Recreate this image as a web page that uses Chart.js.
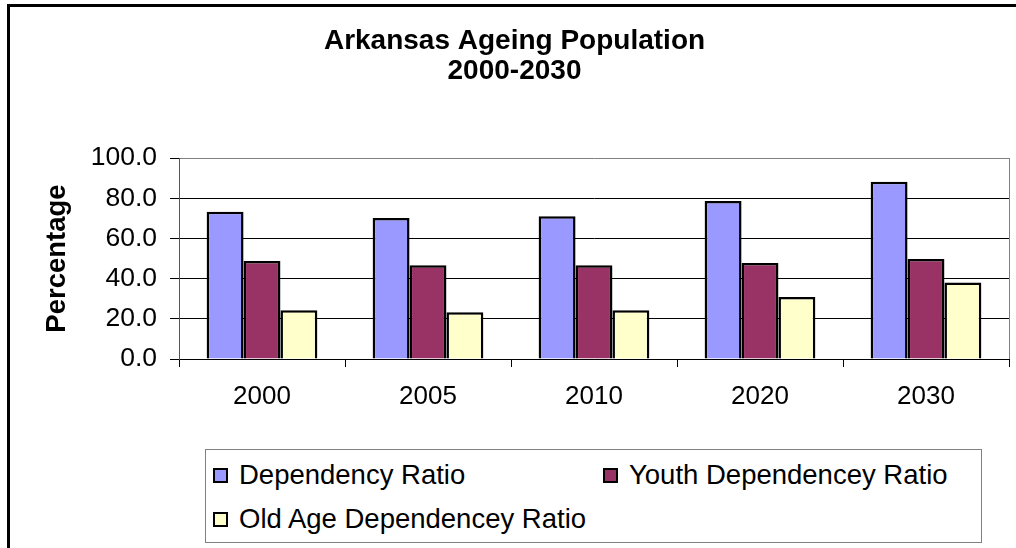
<!DOCTYPE html>
<html>
<head>
<meta charset="utf-8">
<title>Arkansas Ageing Population</title>
<script src="https://cdn.jsdelivr.net/npm/chart.js@4.4.0/dist/chart.umd.min.js"></script>
<style>
    body { margin: 0; background: #fff; font-family: "Liberation Sans", Arial, sans-serif; }
    #wrap { position: relative; width: 1016px; height: 548px; }
    #legend {
        position: absolute; left: 205px; top: 449px; width: 777px; height: 94px;
        box-sizing: border-box; border: 1px solid #808080; background: #fff;
        padding: 3px 0 0 7px;
        display: grid; grid-template-columns: 390px auto; grid-auto-rows: 44px;
    }
    .item { display: flex; align-items: center; font-size: 27.5px; color: #000; white-space: nowrap; }
    .swatch { width: 15px; height: 15px; box-sizing: border-box; border: 2px solid #000; margin-right: 11px; }
</style>
</head>
<body>
<div id="wrap">
    <canvas id="ageingChart"></canvas>
    <div id="legend"></div>
</div>
<script>
// Data
const years = ['2000', '2005', '2010', '2020', '2030'];
const dependencyRatio = [73.3, 70.1, 71.0, 78.6, 88.2];
const youthRatio = [48.8, 46.6, 46.6, 47.8, 49.8];
const oldAgeRatio = [24.3, 23.3, 24.3, 30.8, 38.1];
const seriesNames = ['Dependency Ratio', 'Youth Dependencey Ratio', 'Old Age Dependencey Ratio'];

const colors = {
    dependency: '#9999ff',
    youth: '#993366',
    oldAge: '#ffffcc'
};

Chart.defaults.font.family = '"Liberation Sans", Arial, sans-serif';
Chart.defaults.color = '#000';

// frame round the whole chart (only top and left show in the crop)
const framePlugin = {
    id: 'frame',
    beforeDraw(chart) {
        const ctx = chart.ctx;
        ctx.save();
        ctx.strokeStyle = '#000';
        ctx.lineWidth = 3;
        ctx.beginPath();
        ctx.moveTo(8.5, chart.height + 5);
        ctx.lineTo(8.5, 5.5);
        ctx.lineTo(chart.width + 5, 5.5);
        ctx.stroke();
        ctx.restore();
    },
    afterDraw(chart) {
        const a = chart.chartArea;
        const ctx = chart.ctx;
        ctx.save();
        ctx.strokeStyle = '#808080';
        ctx.lineWidth = 1;
        ctx.beginPath();
        ctx.moveTo(Math.round(a.right) + 0.5, a.top);
        ctx.lineTo(Math.round(a.right) + 0.5, a.bottom);
        ctx.stroke();
        ctx.restore();
    }
};

// legend built from the datasets
const htmlLegend = {
    id: 'htmlLegend',
    afterUpdate(chart) {
        const box = document.getElementById('legend');
        box.innerHTML = '';
        chart.data.datasets.forEach(function (ds) {
            const item = document.createElement('div');
            item.className = 'item';
            const sw = document.createElement('span');
            sw.className = 'swatch';
            sw.style.background = ds.backgroundColor;
            item.appendChild(sw);
            item.appendChild(document.createTextNode(ds.label));
            box.appendChild(item);
        });
    }
};

new Chart(document.getElementById('ageingChart'), {
    type: 'bar',
    data: {
        labels: years,
        datasets: [
            { label: seriesNames[0], data: dependencyRatio, backgroundColor: colors.dependency },
            { label: seriesNames[1], data: youthRatio, backgroundColor: colors.youth },
            { label: seriesNames[2], data: oldAgeRatio, backgroundColor: colors.oldAge }
        ]
    },
    options: {
        responsive: true,
        maintainAspectRatio: false,
        animation: false,
        layout: {
            padding: { top: 0, left: 20, right: 7, bottom: 129 }
        },
        datasets: {
            bar: {
                borderColor: '#000',
                borderWidth: 2.5,
                barPercentage: 1,
                categoryPercentage: 0.667
            }
        },
        plugins: {
            legend: { display: false },
            tooltip: { enabled: false },
            title: {
                display: true,
                text: ['Arkansas Ageing Population', '2000-2030'],
                color: '#000',
                font: { size: 28, weight: 'bold', lineHeight: '30px' },
                padding: { top: 26, bottom: 72 }
            }
        },
        scales: {
            x: {
                afterFit: function (scale) { scale.height = 60; },
                grid: {
                    offset: true,
                    drawOnChartArea: false,
                    drawTicks: true,
                    tickLength: 8,
                    color: '#000'
                },
                border: { color: '#000', width: 1 },
                ticks: {
                    padding: 14,
                    font: { size: 26 }
                }
            },
            y: {
                min: 0,
                max: 100,
                afterFit: function (scale) { scale.width = 159; },
                grid: {
                    color: function (ctx) {
                        return ctx.tick && ctx.tick.value === 100 ? '#808080' : '#000';
                    },
                    tickColor: '#000',
                    tickLength: 9
                },
                border: { color: '#555', width: 1 },
                ticks: {
                    stepSize: 20,
                    padding: 13,
                    font: { size: 26.5 },
                    callback: function (value) {
                        return value.toFixed(1);
                    }
                },
                title: {
                    display: true,
                    text: 'Percentage',
                    color: '#000',
                    font: { size: 27.5, weight: 'bold', lineHeight: '30px' },
                    padding: { top: 22, bottom: 0 }
                }
            }
        }
    },
    plugins: [framePlugin, htmlLegend]
});
</script>
</body>
</html>
